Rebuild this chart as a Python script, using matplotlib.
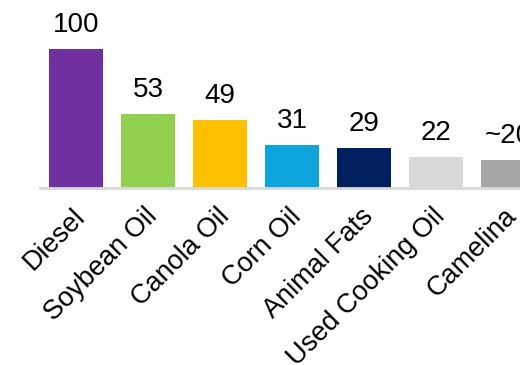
import matplotlib
matplotlib.use("Agg")
import matplotlib.pyplot as plt
import matplotlib.transforms as mtransforms

categories = ["Diesel", "Soybean Oil", "Canola Oil", "Corn Oil", "Animal Fats", "Used Cooking Oil", "Camelina"]
values = [100, 53, 49, 31, 29, 22, 20]
value_labels = ["100", "53", "49", "31", "29", "22", "~20"]
colors = ["#7030A0", "#92D050", "#FFC000", "#0EA5DD", "#002060", "#D9D9D9", "#A6A6A6"]

plt.rcParams['font.family'] = ['Liberation Sans', 'DejaVu Sans']

fig = plt.figure(figsize=(5.2, 3.65), dpi=100)
ax = fig.add_axes([40/520, (365-188)/365, 480/520, 188/365])

x = list(range(len(categories)))
ax.bar(x, values, width=0.75, color=colors)
for xi, v, lab in zip(x, values, value_labels):
    ax.annotate(lab, (xi, v), xytext=(0, 8), textcoords="offset points",
                ha="center", va="bottom", fontsize=20, color="black", annotation_clip=False)

ax.set_xlim(-0.5, -0.5 + 480/72)
ax.set_ylim(0, 135)
ax.set_xticks(x)
ax.set_xticklabels(categories, rotation=45, ha="right", va="top", rotation_mode="anchor", fontsize=19.5)
ax.tick_params(axis="x", length=0, pad=11)
offset = mtransforms.ScaledTranslation(-4/100, 0, fig.dpi_scale_trans)
for lbl in ax.get_xticklabels():
    lbl.set_transform(lbl.get_transform() + offset)
ax.set_yticks([])
for s in ["top", "right", "left"]:
    ax.spines[s].set_visible(False)
ax.spines["bottom"].set_color("#D9D9D9")
ax.spines["bottom"].set_linewidth(2)
ax.patch.set_alpha(0)

fig.savefig("out.png", dpi=100)
